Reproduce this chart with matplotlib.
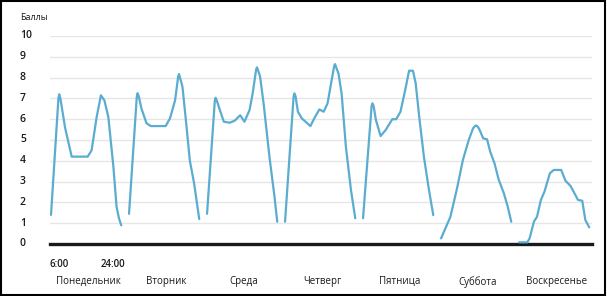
import matplotlib
matplotlib.use('Agg')
import matplotlib.pyplot as plt
from matplotlib.patches import Rectangle

# Дни недели и подписи
days = ['Понедельник', 'Вторник', 'Среда', 'Четверг', 'Пятница', 'Суббота', 'Воскресенье']

# Часы (6:00 .. 24:00) и баллы для каждого дня
mon_h = [6.0, 7.9, 8.1, 8.4, 9.6, 11.3, 11.7, 15.4, 16.4, 17.7, 18.8, 19.7, 20.7, 22.0, 22.8, 23.4, 24.0]
mon_v = [1.4, 7.0, 7.2, 7.0, 5.6, 4.2, 4.2, 4.2, 4.5, 6.1, 7.15, 6.9, 6.1, 3.7, 1.8, 1.25, 0.9]

tue_h = [6.0, 8.0, 8.2, 8.5, 9.2, 10.5, 11.6, 15.4, 16.5, 17.8, 18.6, 18.8, 19.0, 19.7, 20.5, 21.6, 22.7, 24.0]
tue_v = [1.45, 7.1, 7.25, 7.1, 6.5, 5.8, 5.67, 5.67, 6.04, 6.9, 8.05, 8.17, 8.05, 7.56, 6.1, 4.0, 2.9, 1.2]

wed_h = [6.0, 8.0, 8.2, 8.5, 9.3, 10.3, 11.8, 13.1, 14.5, 15.6, 16.9, 17.7, 18.6, 18.8, 19.0, 19.6, 20.5, 22.0, 23.3, 24.0]
wed_v = [1.45, 6.9, 7.03, 6.9, 6.44, 5.88, 5.83, 5.93, 6.19, 5.88, 6.44, 7.24, 8.4, 8.49, 8.4, 8.05, 6.76, 4.2, 2.27, 1.07]

thu_h = [6.0, 8.2, 8.4, 8.7, 9.3, 10.3, 12.5, 13.5, 14.8, 15.9, 16.9, 17.8, 18.6, 18.8, 19.0, 19.7, 20.5, 21.6, 22.9, 24.0]
thu_v = [1.07, 7.1, 7.24, 7.1, 6.36, 6.04, 5.67, 6.04, 6.47, 6.36, 6.76, 7.72, 8.55, 8.65, 8.55, 8.2, 7.24, 4.68, 2.6, 1.24]

fri_h = [6.0, 8.2, 8.4, 8.7, 9.3, 10.5, 11.8, 13.5, 14.5, 15.6, 16.8, 17.8, 18.8, 19.5, 20.4, 21.6, 22.9, 24.0]
fri_v = [1.24, 6.65, 6.76, 6.65, 5.96, 5.19, 5.48, 6.0, 6.0, 6.36, 7.4, 8.33, 8.33, 7.72, 6.12, 4.2, 2.6, 1.39]

sat_h = [6.0, 8.4, 10.1, 11.6, 13.1, 14.2, 14.8, 15.1, 15.5, 15.9, 16.8, 17.8, 18.6, 19.7, 20.8, 22.1, 23.1, 24.0]
sat_v = [0.27, 1.31, 2.68, 4.04, 5.0, 5.56, 5.69, 5.69, 5.62, 5.48, 5.08, 5.03, 4.44, 3.88, 3.08, 2.44, 1.79, 1.07]

sun_h = [6.0, 8.1, 8.7, 9.8, 10.6, 11.6, 12.5, 13.9, 14.9, 16.8, 17.9, 19.2, 20.2, 21.1, 22.2, 23.0, 24.0]
sun_v = [0.08, 0.08, 0.27, 1.07, 1.31, 2.12, 2.51, 3.4, 3.56, 3.56, 3.04, 2.79, 2.44, 2.12, 2.08, 1.15, 0.8]

hours = [mon_h, tue_h, wed_h, thu_h, fri_h, sat_h, sun_h]
values = [mon_v, tue_v, wed_v, thu_v, fri_v, sat_v, sun_v]

yticks = list(range(0, 11))
day_slot = 20  # ширина одного дня по оси x (18 часов + промежуток)

plt.rcParams['font.family'] = ['Open Sans', 'DejaVu Sans']
line_color = '#5aacd0'
text_color = '#1a1a1a'

fig = plt.figure(figsize=(6.07, 2.96), dpi=100)
ax = fig.add_axes([50 / 607, 52 / 296, 542 / 607, 208 / 296])
ax.set_xlim(-0.26, 138.7)
ax.set_ylim(0, 10)

# сетка
for y in yticks[1:]:
    ax.axhline(y, color='#e6e6e6', lw=1.0, zorder=1)
ax.axhline(0, color='#1a1a1a', lw=2.4, zorder=2, clip_on=False)

for d, (h, v) in enumerate(zip(hours, values)):
    x = [d * day_slot + (hh - 6) for hh in h]
    ax.plot(x, v, color=line_color, lw=1.6, solid_joinstyle='round',
            solid_capstyle='round', zorder=3, clip_on=False)

for s in ax.spines.values():
    s.set_visible(False)
ax.set_xticks([])
ax.set_yticks([])

# подписи оси y
for y in yticks:
    ax.text(-30 / 3.9 - 0.26, y, str(y), ha='left', va='center', fontsize=7.5,
            color=text_color, fontweight='semibold', clip_on=False)
fig.text(20 / 607, 1 - 17 / 296, 'Баллы', ha='left', va='center', fontsize=6.5,
         color=text_color)

# подписи времени и дней
ax.text(-0.26, -0.7, '6:00', ha='left', va='top', fontsize=7,
        fontweight='semibold', color=text_color)
ax.text(12.6, -0.7, '24:00', ha='left', va='top', fontsize=7,
        fontweight='semibold', color=text_color)
for d, name in enumerate(days):
    ax.text(d * day_slot + 9.5, -1.55, name, ha='center', va='top', fontsize=7,
            color=text_color)

# рамка вокруг рисунка
fig.patches.append(Rectangle((0.0015, 0.003), 0.995, 0.994, transform=fig.transFigure,
                             fill=False, edgecolor='black', lw=1.5))

fig.savefig('out.png', dpi=100)
plt.close(fig)
